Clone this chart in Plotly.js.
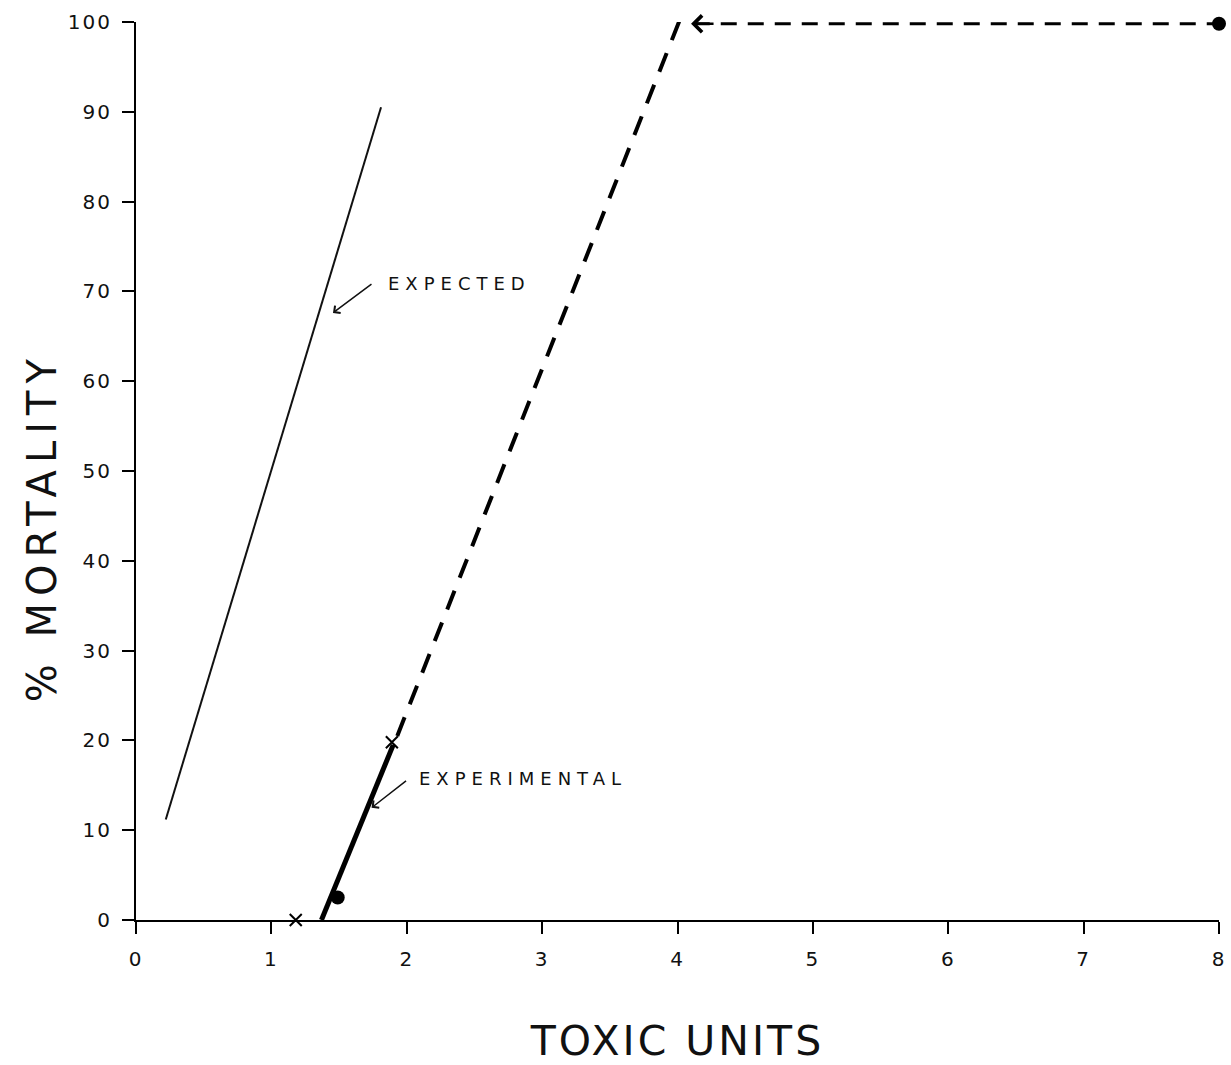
<!DOCTYPE html>
<html>
<head>
<meta charset="utf-8">
<script src="https://cdn.plot.ly/plotly-3.0.1.min.js"></script>
<style>
html,body{margin:0;padding:0;background:#fff;}
#chart{width:1231px;height:1065px;}
#chart .xtitle{letter-spacing:3px;}
#chart .annotation-text{letter-spacing:6px;}
#chart .annotation.ytitle-ann .annotation-text{letter-spacing:7px;}
#chart .xtick text,#chart .ytick text{letter-spacing:2px;}
</style>
</head>
<body>
<div id="chart"></div>
<script>
// Data
const expectedX = [0.22, 1.81];
const expectedY = [11.2, 90.5];

const experimentalSolidX = [1.37, 1.90];
const experimentalSolidY = [0, 19.5];

const experimentalDashX = [1.93, 4.05];
const experimentalDashY = [20.5, 101.5];

const plateauX = [4.12, 8.0];
const plateauY = [99.8, 99.8];

const crossX = [1.18, 1.89];
const crossY = [0, 19.8];

const dotX = [1.49, 8.0];
const dotY = [2.5, 99.8];

const xTicks = [0, 1, 2, 3, 4, 5, 6, 7, 8];
const xTickLabels = ['0', '1', '2', '3', '4', '5', '6', '7', '8'];
const yTicks = [0, 10, 20, 30, 40, 50, 60, 70, 80, 90, 100];
const yTickLabels = ['0', '10', '20', '30', '40', '50', '60', '70', '80', '90', '100'];

const FONT = 'DejaVu Sans, Liberation Sans, sans-serif';

const traces = [
  {x: expectedX, y: expectedY, mode: 'lines', line: {color: '#111', width: 2}, cliponaxis: false, hoverinfo: 'skip'},
  {x: experimentalSolidX, y: experimentalSolidY, mode: 'lines', line: {color: '#000', width: 5}, cliponaxis: false, hoverinfo: 'skip'},
  {x: experimentalDashX, y: experimentalDashY, mode: 'lines', line: {color: '#000', width: 4, dash: '20px,14px'}, cliponaxis: false, hoverinfo: 'skip'},
  {x: plateauX, y: plateauY, mode: 'lines', line: {color: '#000', width: 3, dash: '16px,11px'}, cliponaxis: false, hoverinfo: 'skip'},
  {x: crossX, y: crossY, mode: 'markers', marker: {symbol: 'x-thin-open', size: 12, color: '#000', line: {width: 2, color: '#000'}}, cliponaxis: false, hoverinfo: 'skip'},
  {x: dotX, y: dotY, mode: 'markers', marker: {symbol: 'circle', size: 14, color: '#000'}, cliponaxis: false, hoverinfo: 'skip'}
];

const layout = {
  width: 1231, height: 1065,
  paper_bgcolor: '#fff', plot_bgcolor: '#fff',
  showlegend: false,
  margin: {l: 136, r: 12, t: 22, b: 145},
  font: {family: FONT, color: '#111'},
  xaxis: {
    range: [0, 8], tickvals: xTicks, ticktext: xTickLabels,
    showgrid: false, zeroline: false, showline: true, linecolor: '#000', linewidth: 2,
    ticks: 'outside', ticklen: 12, tickwidth: 2, tickcolor: '#000', ticklabelstandoff: 8,
    tickfont: {family: FONT, size: 20, color: '#111'},
    title: {text: 'TOXIC UNITS', font: {family: FONT, size: 41, color: '#111'}, standoff: 62}
  },
  yaxis: {
    range: [0, 100], tickvals: yTicks, ticktext: yTickLabels,
    showgrid: false, zeroline: false, showline: true, linecolor: '#000', linewidth: 2,
    ticks: 'outside', ticklen: 12, tickwidth: 2, tickcolor: '#000', ticklabelstandoff: 6,
    tickfont: {family: FONT, size: 20, color: '#111'}
  },
  annotations: [
    {x: -0.087, y: 0.4376, xref: 'paper', yref: 'paper', text: '% MORTALITY', textangle: -90, showarrow: false, xanchor: 'center', yanchor: 'middle', name: 'ytitle', font: {family: FONT, size: 40, color: '#111'}},
    {x: 2.39, y: 70.9, xref: 'x', yref: 'y', text: 'EXPECTED', showarrow: false, font: {family: FONT, size: 18, color: '#111'}},
    {x: 1.455, y: 67.6, xref: 'x', yref: 'y', text: '', showarrow: true, ax: 40, ay: -30, arrowhead: 4, arrowsize: 1.2, arrowwidth: 1.5, arrowcolor: '#111'},
    {x: 2.86, y: 15.8, xref: 'x', yref: 'y', text: 'EXPERIMENTAL', showarrow: false, font: {family: FONT, size: 18, color: '#111'}},
    {x: 1.74, y: 12.5, xref: 'x', yref: 'y', text: '', showarrow: true, ax: 36, ay: -28, arrowhead: 4, arrowsize: 1.2, arrowwidth: 1.5, arrowcolor: '#111'},
    {x: 4.1, y: 99.8, xref: 'x', yref: 'y', text: '', showarrow: true, ax: 24, ay: 0, arrowhead: 4, arrowsize: 1.3, arrowwidth: 2.5, arrowcolor: '#000'}
  ]
};

Plotly.newPlot('chart', traces, layout, {displayModeBar: false, staticPlot: true}).then(function (gd) {
  var anns = gd.querySelectorAll('.annotation');
  if (anns.length) anns[0].classList.add('ytitle-ann');
});
</script>
</body>
</html>
